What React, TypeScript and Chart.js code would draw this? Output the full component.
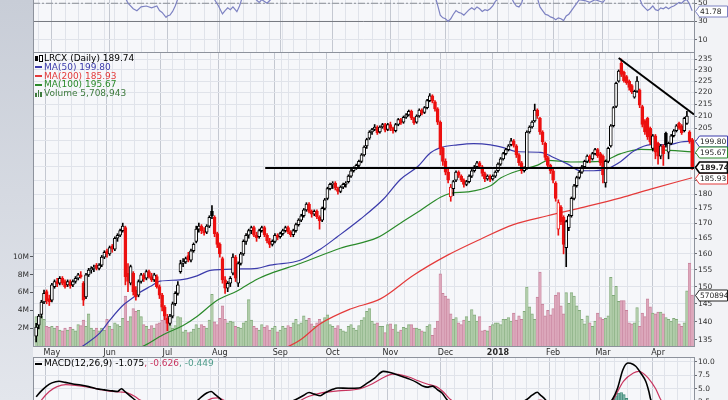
import React, { useEffect, useRef } from 'react';
import { Chart, registerables } from 'chart.js';

Chart.register(...registerables);

const FONT = '"DejaVu Sans", Verdana, sans-serif';
Chart.defaults.font.family = FONT;

// ---------------- categories (trading sessions) ----------------
const FIRST_SESSION = [2017, 3, 21]; // 21 Apr 2017
const SESSION_COUNT = 251;
const MARKET_HOLIDAYS = ['2017-05-29', '2017-07-04', '2017-09-04', '2017-11-23', '2017-12-25', '2018-01-01', '2018-01-15', '2018-02-19', '2018-03-30'];
const MONTH_LABELS = ['2018', 'Feb', 'Mar', 'Apr', 'May', 'Jun', 'Jul', 'Aug', 'Sep', 'Oct', 'Nov', 'Dec'];

// ---------------- price data (LRCX daily) ----------------
const opens = [
  136, 139, 142, 145.5, 148.5, 146.5, 146, 150, 151.5, 151,
  152.5, 151.5, 150.5, 151.5, 150.5, 151.5, 152.5, 153.5, 151, 147,
  153.5, 155, 155.5, 156.5, 155.5, 156.5, 159, 161, 160, 162.5,
  161.5, 165, 166, 167.5, 168.5, 154, 151, 154, 149, 147.5,
  151.5, 153.5, 152.5, 154.5, 153, 152, 153, 150, 147.5, 144,
  141, 139.5, 141.5, 145, 148, 154.5, 157, 157.5, 159.5, 158,
  161, 164, 168, 169, 167.5, 167, 169, 174, 172, 166.5,
  163, 158.5, 152, 149.5, 151, 154, 159, 151, 157, 160,
  164, 166, 167.5, 168.5, 166, 165.5, 167.5, 168.5, 166, 164,
  163, 164, 166, 165.5, 166.5, 167.5, 168.5, 167, 166.2, 167.5,
  169.5, 171, 172.5, 174.5, 176.5, 174, 173, 174, 172, 171,
  175, 178.5, 182, 183.5, 184, 182, 181, 182.5, 183.5, 184.5,
  186.5, 188.5, 189.5, 190.5, 192, 194.5, 198, 201, 203.5, 204.5,
  205.5, 203.5, 205.5, 206.5, 204.5, 206.5, 205, 204, 206.5, 208.5,
  207.5, 209.5, 210.5, 212, 209, 207.5, 210, 212.5, 211.5, 213.5,
  216.5, 218.5, 216, 213, 207.5, 197, 192, 188, 179, 182,
  185, 188, 186.5, 185, 183.5, 184.5, 186.5, 188.5, 190, 191.5,
  190, 187.5, 185.5, 186.5, 185.5, 186.5, 188.5, 191, 193, 195,
  196.5, 198.5, 200, 198, 194.5, 191.5, 188.5, 189.5, 203.5, 205.5,
  208, 212.5, 209, 203.5, 199, 193.5, 190.5, 188.5, 184, 168,
  175.5, 172, 162, 168.5, 172.5, 178.5, 183, 186, 188, 190,
  192, 194, 193, 195, 196.5, 195, 194, 184, 192, 198,
  206, 214, 225, 233, 229, 227, 225, 223, 218, 220.5,
  221, 214, 208, 209, 205, 197, 202, 199, 194, 198,
  203, 195.5, 199, 202, 204, 207, 206, 204, 207, 203.5,
  200.5,
];
const closes = [
  138.5, 141.5, 145.5, 148, 145.8, 145.5, 150.5, 151.5, 150.8, 152.5,
  151, 150, 151.5, 150.2, 151.5, 152.5, 153.5, 153, 146, 153.5,
  155, 155.5, 155.8, 155.5, 156.5, 159, 160.5, 160, 162, 161.5,
  165, 166, 167.5, 169, 153, 151.5, 156, 148.5, 147, 151.5,
  153.5, 152.2, 154.5, 153, 152, 153.5, 150, 147.5, 144, 141.5,
  139.5, 141.5, 145, 148, 150.5, 157, 157.5, 158.5, 158, 161,
  163, 168, 169, 167.5, 166.8, 169, 172, 172.5, 166.5, 163,
  160, 152, 149.5, 151, 152.5, 159, 152.5, 157, 160, 164,
  166, 167.5, 168.5, 166, 165.2, 167.5, 168.5, 166.2, 164.2, 163,
  164, 166, 165.3, 166.5, 167.5, 168.5, 167.2, 166.2, 167.5, 169.5,
  171, 172.5, 174.5, 176.5, 174, 173, 174, 172.2, 170.8, 175,
  178, 182, 183.5, 183.8, 182.2, 181, 182.5, 183.5, 184, 186.5,
  188.5, 189.5, 190.5, 192, 194.5, 197.5, 200.5, 203.5, 204.5, 205.5,
  203.2, 205.5, 206.5, 204.2, 206.5, 205, 204, 206.5, 208.5, 207.2,
  209.5, 210.5, 212, 209.2, 207.2, 210, 212.5, 211.2, 213.5, 216.5,
  218.5, 216.2, 213, 207.5, 197, 192, 188, 185, 182.5, 184.5,
  188, 186.8, 185.2, 183.5, 184.5, 186.5, 188.5, 190, 191.5, 190.2,
  187.5, 185.5, 186.5, 185.3, 186.5, 188, 191, 193, 195, 196.5,
  198, 200, 198.2, 194.5, 191.5, 188.5, 189.5, 203.5, 205.5, 207.5,
  212.5, 210, 203.5, 199.5, 193.5, 190.5, 188.5, 185, 178.5, 177,
  170.5, 163, 170.5, 172.5, 178.5, 183, 186, 188, 190, 192,
  194, 192.8, 195, 196.5, 194.2, 191.5, 187, 192, 197, 206,
  213.5, 224, 229.5, 228, 225.2, 224.2, 222.2, 220.2, 220.5, 225,
  214.5, 206.5, 203.5, 201.5, 199.5, 202, 195.5, 194, 198, 195,
  198.5, 199, 202, 204, 206, 205, 203.2, 209, 210, 199.8,
  189.74,
];
const highs = [
  139.5, 142, 146, 149, 149, 147.5, 151, 152, 152.5, 153,
  153, 152, 152, 152, 152, 153, 154, 154.5, 151.5, 154,
  155.5, 156, 156.5, 157, 157, 159.5, 161, 161.5, 162.5, 163,
  165.5, 166.5, 168, 170, 169, 157, 156.5, 154.5, 150, 152,
  154, 154, 155, 155, 154, 154, 153.5, 150.5, 148, 144.5,
  142, 142, 145.5, 148.5, 151.5, 158, 158.5, 159, 160.5, 161.5,
  163.5, 169, 170, 169.5, 168.5, 169.5, 172.5, 176, 172.5, 167,
  163.5, 159, 153, 151.5, 153, 160, 159.5, 157.5, 160.5, 164.5,
  166.5, 168, 169, 169, 167, 168, 169, 169, 166.5, 165,
  164.5, 166.5, 166.5, 167, 168, 169, 169, 167.5, 168, 170,
  171.5, 173, 175, 177, 177, 174.5, 174.5, 174.5, 172.5, 175.5,
  178.5, 182.5, 184, 184.5, 184.5, 182.5, 183, 184, 184.5, 187,
  189, 190, 191, 192.5, 195, 198, 201, 204, 205, 206.5,
  206, 206, 207, 207, 207, 207.5, 205.5, 207, 209, 209,
  210, 211, 212.5, 212.5, 209.5, 210.5, 213, 213, 214, 217,
  219.5, 219, 216.5, 213.5, 208, 197.5, 193, 189, 183.5, 185,
  188.5, 188.5, 187, 185.5, 185, 187, 189, 190.5, 192, 192,
  190.5, 188, 187, 187, 187, 188.5, 191.5, 193.5, 195.5, 197,
  198.5, 201, 200.5, 198.5, 195, 192, 190, 204, 206, 208,
  215, 213, 209.5, 204, 199.5, 194, 191, 189, 184.5, 178,
  176, 172.5, 171, 173, 179, 183.5, 186.5, 188.5, 190.5, 192.5,
  194.5, 194.5, 195.5, 197, 197, 195.5, 194.5, 192.5, 197.5, 206.5,
  214, 224.5, 230, 235, 229.5, 227.5, 225.5, 223.5, 221, 227,
  221.5, 214.5, 208.5, 209.5, 205.5, 202.5, 202.5, 199.5, 198.5, 198.5,
  203.5, 199.5, 202.5, 204.5, 206.5, 207.5, 206.5, 209.5, 212, 204,
  201,
];
const lows = [
  134.5, 138, 141, 145, 145, 144.5, 145.5, 149.5, 150, 150.5,
  150.5, 149.5, 150, 149.5, 150, 151, 152, 152.5, 144.5, 146.5,
  153, 154, 154.5, 155, 155, 156, 158.5, 159, 159.5, 160.5,
  161, 164, 165.5, 167, 150.5, 148.5, 150.5, 147.5, 146, 147,
  151, 151.5, 152, 152.5, 151.5, 151.5, 149.5, 146.5, 143, 140.5,
  137.5, 139, 141, 144.5, 147.5, 154, 156, 157, 157.5, 157.5,
  160.5, 163.5, 167, 166.5, 166, 166.5, 168.5, 171.5, 165.5, 162,
  159, 151, 148, 148.5, 150, 153.5, 151.5, 150, 156.5, 159.5,
  163, 165, 166.5, 165.5, 164, 165, 167, 165.5, 163.5, 162,
  162.5, 163.5, 164.5, 165, 166, 167, 166.5, 165.5, 165.5, 167,
  169, 170.5, 172, 174, 173.5, 172, 172.5, 171.5, 168, 170.5,
  174.5, 178, 181.5, 182, 181.5, 180, 180.5, 182, 182.5, 184,
  186, 188, 189, 190, 191.5, 194, 197, 200.5, 202.5, 204,
  202.5, 203, 205, 203.5, 204, 204, 203, 203.5, 206, 206.5,
  207, 209, 210, 208.5, 206.5, 207, 209.5, 210.5, 211, 213,
  216, 215.5, 212, 206.5, 194.5, 190.5, 187, 184, 177.5, 179.5,
  184.5, 186, 184.5, 182.5, 183, 184, 186, 188, 189.5, 189.5,
  186.5, 184.5, 185, 184.5, 185, 186, 188, 190.5, 192.5, 194.5,
  196, 198, 197.5, 193.5, 190.5, 187.5, 188, 189, 203, 205,
  207.5, 209, 202.5, 198.5, 192.5, 189.5, 187.5, 184, 177.5, 166,
  169.5, 160, 156, 167.5, 172, 178, 182.5, 185.5, 187.5, 189.5,
  191.5, 191.5, 192.5, 194.5, 193.5, 190.5, 184, 182.5, 191.5, 197.5,
  205.5, 213.5, 224.5, 227, 224.5, 223.5, 221, 219.5, 217.5, 220,
  213.5, 205.5, 202.5, 200.5, 198.5, 196, 193, 191, 193, 190.5,
  197.5, 193, 198.5, 201.5, 203.5, 204.5, 202.5, 203.5, 206.5, 199,
  189,
];
// volume, millions of shares
const volumesM = [
  3.3, 3.2, 3.4, 3.0, 2.2, 2.1, 2.2, 2.0, 2.2, 1.8,
  1.7, 2.0, 1.8, 2.1, 1.9, 1.7, 2.4, 2.3, 2.9, 2.2,
  3.6, 2.0, 1.8, 2.0, 1.7, 2.0, 1.8, 3.0, 2.2, 1.9,
  2.6, 2.4, 2.2, 3.1, 5.6, 2.8, 3.3, 4.2, 3.9, 4.0,
  3.3, 2.4, 2.2, 1.9, 2.3, 2.0, 2.5, 2.6, 2.9, 3.7,
  3.0, 2.4, 2.0, 2.3, 3.3, 3.2, 1.6, 1.8, 1.5, 1.6,
  1.9, 2.4, 2.0, 2.4, 2.2, 2.0, 2.9, 5.8, 2.7, 2.4,
  3.1, 4.5, 3.0, 2.6, 2.8, 2.7, 2.2, 2.1, 2.0, 2.6,
  2.8, 5.2, 2.9, 2.2, 2.0, 1.8, 2.4, 2.1, 2.3, 1.8,
  2.0, 2.2, 1.6, 1.8, 2.2, 2.0, 2.3, 2.1, 2.6, 3.0,
  2.4, 2.6, 3.4, 2.9, 3.1, 2.5, 2.2, 2.6, 3.0, 2.7,
  3.2, 3.5, 2.4, 2.2, 2.0, 2.3, 1.9, 1.7, 1.6, 2.2,
  2.4, 2.0, 1.8, 2.3, 2.9, 3.2, 3.9, 4.2, 2.8, 2.5,
  2.6, 2.2, 2.2, 1.5, 2.4, 2.5, 1.9, 2.4, 1.6, 1.8,
  2.1, 2.0, 2.4, 2.4, 2.0, 2.0, 1.9, 1.7, 1.6, 2.2,
  2.4, 1.2, 2.0, 2.8, 8.1, 5.9, 5.6, 5.3, 3.6, 3.0,
  3.2, 2.6, 2.4, 2.9, 3.3, 2.8, 4.1, 3.5, 2.8, 3.3,
  1.7, 1.8, 1.7, 2.2, 2.4, 2.6, 2.6, 2.4, 3.0, 3.0,
  3.2, 2.8, 3.7, 2.9, 3.4, 3.0, 3.9, 6.6, 4.4, 3.6,
  3.0, 5.5, 8.3, 4.7, 3.4, 4.0, 3.5, 4.2, 5.7, 6.0,
  4.5, 3.6, 6.0, 4.8, 6.0, 5.6, 4.5, 4.0, 3.0, 2.5,
  3.4, 2.6, 2.2, 2.8, 3.7, 3.2, 3.0, 3.1, 3.4, 7.7,
  5.7, 6.7, 5.0, 5.1, 5.1, 4.0, 2.6, 2.5, 2.6, 4.3,
  2.2, 3.7, 3.3, 5.3, 4.4, 3.7, 3.6, 3.8, 3.8, 3.6,
  3.2, 3.0, 2.8, 3.1, 3.0, 2.5, 2.2, 2.6, 6.2, 9.3,
  5.708943,
];

// moving averages (session index -> value)
const ma50Idx = [15, 17.8, 24.3, 28, 33, 37, 39.6, 43.4, 47.2, 54.8, 61.3, 66.3, 76.6, 84.2, 89.2, 100.6, 108.3, 114.8, 123.5, 132.3, 138.8, 145.3, 150.3, 154.1, 160.6, 166.7, 173.2, 178.1, 183.5, 192.3, 197.2, 202.6, 207.5, 212.5, 217.8, 222.8, 227.8, 234.2, 240.7, 245.7, 250];
const ma50Val = [132, 133.4, 136.9, 140.3, 144.5, 146.8, 148.3, 150, 151.6, 152, 153.2, 154.9, 155.3, 155.5, 156.5, 158, 161.5, 165.5, 171.3, 178.2, 185.3, 190, 195.3, 197.3, 198.4, 198.9, 198.4, 197.3, 195.7, 195.5, 193.5, 191, 188.5, 188.5, 189.3, 192, 196, 198.5, 198.4, 199.5, 199.8];
const ma100Idx = [38, 41.5, 48.4, 56, 61.3, 69, 76.6, 84.2, 89.2, 100.6, 115.9, 130, 138.8, 146.4, 154.1, 157.9, 164.4, 173.2, 177, 184.6, 191.1, 195, 203.7, 215.2, 222.8, 230.4, 238, 250];
const ma100Val = [132.5, 133.6, 136.4, 138.9, 141.4, 146, 148.7, 152.2, 153.9, 157, 161.8, 165.2, 170, 174.3, 178.9, 180.3, 180.8, 183, 185.8, 188.8, 190.6, 192.4, 191.8, 192, 195, 196.6, 196.4, 195.67];
const ma200Idx = [93, 96.8, 100.6, 108.3, 119.7, 131.2, 143.8, 156.8, 169.3, 181.9, 194.9, 207.5, 222.8, 234.2, 250];
const ma200Val = [132.5, 133.5, 135, 139.4, 143.5, 146.4, 153.4, 159.6, 164.7, 169.5, 172.5, 175.2, 178.7, 181.8, 185.93];

// hand-drawn trend lines
const supportIdx = [87.3, 250.7];
const supportVal = [189.5, 189.5];
const resistIdx = [222, 250.7];
const resistVal = [235.5, 210.6];

// RSI(14)
const rsiIdx = [0, 5, 10, 15, 20, 25, 30, 33, 35, 37, 38.4, 40, 42, 44, 46, 47, 48, 49.5, 50, 51, 52, 53, 54, 56, 60, 64, 67, 68, 69.5, 71, 72, 73, 74, 75, 76.5, 77.5, 78.5, 80, 83, 85, 86, 88, 89, 91, 95, 100, 105, 110, 115, 120, 126, 130, 135, 140, 145, 150, 152, 153, 154, 155, 156, 157, 158, 159, 160, 161, 162, 163, 164, 165, 166, 167, 168, 169, 170, 171, 172, 173, 174, 175, 177, 180, 181, 182, 183, 184, 185, 186, 188, 190, 191, 192, 193, 194, 195, 196, 197, 198, 199, 200, 201, 202, 203, 204, 205, 206, 207, 209, 211, 213, 215, 216, 217, 219, 223, 226, 228, 230, 231, 232, 233, 234, 235, 236, 237, 238, 239, 240, 241, 242, 243, 244, 245, 246, 247, 248, 249, 250];
const rsiVal = [62, 66, 68, 64, 66, 70, 72, 62, 50, 44, 41.8, 46, 47, 45, 47, 42, 40, 34.6, 36, 37, 41, 47, 55, 62, 66, 65, 58, 54, 47, 38.3, 42, 45, 43, 46, 40.8, 47, 56, 60, 56, 51, 54, 50, 53, 58, 62, 68, 72, 70, 74, 72, 78, 74, 68, 66, 62, 64, 58, 48, 37, 34, 33, 30.2, 33, 38, 42, 40, 39, 37, 40, 43, 45, 43, 46, 44, 41, 43, 42, 44, 47, 52, 58, 62, 57, 51, 47, 46, 50, 60, 68, 62, 56, 46, 42, 38, 37, 35, 34, 32, 34, 33, 31, 36, 38, 42, 46, 50, 54, 53, 51, 54, 52, 51, 55, 65, 78, 70, 60, 55, 48, 45, 42, 44, 47, 43, 42, 45, 44, 46, 44, 46, 47, 49, 51, 50, 53, 54, 49, 41.78];
const RSI_MIDLINE = 50;
const RSI_OVERSOLD = 30;

// MACD(12,26,9)
const macdIdx = [0, 2, 4, 6, 8.7, 11, 14, 17, 20, 23, 26, 29, 31, 32.5, 34, 36, 38, 42, 46, 50, 54, 58, 61, 63, 65, 66.7, 68, 70, 72, 76, 80, 85, 90, 95, 99, 102, 104, 106, 108.3, 110, 113, 115, 119, 123, 126, 129, 132.3, 134.5, 137, 140, 142.3, 145, 147.6, 149, 151, 153, 154.5, 156.5, 160, 165, 170, 175, 180, 184, 187, 189, 191, 192, 194, 197, 201, 205, 210, 214, 217, 219.6, 221.6, 223.6, 225.5, 226.5, 228.5, 230.4, 232.3, 233.5, 234.2, 237, 242, 246, 250];
const macdVal = [3.5, 4.6, 5.5, 6.1, 6.4, 6.2, 5.9, 5.7, 5.4, 5.0, 4.8, 4.6, 4.5, 5.0, 4.4, 3.6, 2.8, 1.8, 1.0, 0.2, 0.8, 1.8, 2.6, 3.5, 4.2, 4.5, 4.0, 3.2, 2.0, 0.6, 0.8, 1.5, 1.6, 2.2, 3.0, 3.8, 4.3, 4.0, 3.7, 4.2, 4.9, 5.15, 5.1, 5.15, 6.0, 7.0, 8.25, 8.1, 7.7, 7.2, 6.8, 6.2, 5.45, 5.3, 5.5, 4.8, 4.3, 3.0, 1.0, 0.2, 0.5, 1.2, 1.8, 2.2, 3.0, 3.8, 4.35, 3.9, 3.0, 1.0, -2.0, -2.5, -1.0, 0.5, 1.8, 3.0, 5.15, 8.56, 9.8, 9.75, 9.2, 7.95, 6.4, 4.5, 3.0, 1.5, 0.2, -0.5, -1.075];
const signalIdx = [0, 2, 5, 8, 11.3, 15, 20, 24, 28, 32, 35, 37.5, 39.2, 43, 50, 58, 63, 67, 69, 71, 75, 85, 95, 100, 101.4, 104, 108.3, 115, 123.5, 128, 132, 135.8, 138, 142, 145.6, 149, 152.5, 155, 157.9, 162, 170, 180, 188, 192, 196, 202, 208, 214, 218, 220, 223.8, 227.6, 229.6, 231, 233.1, 236.1, 238, 242, 246, 250];
const signalVal = [1.5, 2.9, 4.5, 5.4, 5.76, 5.65, 5.3, 4.9, 4.55, 4.4, 4.2, 3.6, 3.0, 2.2, 1.0, 1.0, 2.2, 3.2, 3.3, 3.0, 2.0, 1.0, 1.6, 2.6, 3.0, 3.6, 4.2, 4.6, 5.0, 5.9, 7.0, 7.75, 7.7, 7.2, 6.5, 5.9, 5.4, 4.5, 3.0, 1.8, 0.8, 1.0, 2.2, 2.9, 2.2, 0.0, -1.5, -0.5, 1.5, 3.0, 6.4, 7.95, 8.25, 8.0, 7.1, 5.0, 3.0, 1.0, 0.0, -0.626];
const histIdx = [217, 218, 219, 220, 221, 222, 223, 224, 225, 226, 227];
const histVal = [1.0, 1.8, 2.6, 3.2, 3.7, 4.2, 4.3, 3.9, 3.2, 2.4, 1.4];

// axis ticks and last-value tags
const PRICE_TICKS = [135, 140, 145, 150, 155, 160, 165, 170, 175, 180, 185, 190, 195, 200, 205, 210, 215, 220, 225, 230, 235];
const VOLUME_TICKS = [2, 4, 6, 8, 10];
const RSI_TICKS = [10, 30, 50];
const MACD_TICKS = [-2.5, 0, 2.5, 5, 7.5, 10];
const LAST_CLOSE = 189.74;
const LAST_MA50 = 199.8;
const LAST_MA100 = 195.67;
const LAST_MA200 = 185.93;
const LAST_VOLUME = 5708943;
const LAST_RSI = 41.78;

// ---------------- styling ----------------
const X_MIN = -1.2;
const X_MAX = 250.7;
const PRICE_MIN = 133.41;
const PRICE_MAX = 238.27;
const PAGE_BG = '#f2f3f6';
const PANEL_BG = '#f6f7fa';
const GRID = '#e0e3ea';
const MONTH_GRID = '#c4c8d1';
const FRAME = '#8d929c';
const RED = '#ec1010';
const BLACK = '#000000';
const MA50_COLOR = '#3b3bab';
const MA100_COLOR = '#2a8a2a';
const MA200_COLOR = '#e43a3a';
const RSI_COLOR = '#7d82c2';
const SIGNAL_COLOR = '#c8345f';

// ---------------- derived calendar ----------------
function tradingDays(): Date[] {
  const out: Date[] = [];
  const d = new Date(FIRST_SESSION[0], FIRST_SESSION[1], FIRST_SESSION[2]);
  while (out.length < SESSION_COUNT) {
    const wd = d.getDay();
    const key = `${d.getFullYear()}-${String(d.getMonth() + 1).padStart(2, '0')}-${String(d.getDate()).padStart(2, '0')}`;
    if (wd !== 0 && wd !== 6 && !MARKET_HOLIDAYS.includes(key)) out.push(new Date(d));
    d.setDate(d.getDate() + 1);
  }
  return out;
}
const SESSIONS = tradingDays();
const gridIdx: number[] = [];
const monthLabelAt = new Map<number, string>();
SESSIONS.forEach((d, i) => {
  if (i === 0) return;
  const p = SESSIONS[i - 1];
  const newMonth = d.getMonth() !== p.getMonth();
  const newWeek = d.getDay() < p.getDay() || d.getTime() - p.getTime() > 4 * 86400000;
  if (newMonth) monthLabelAt.set(i, MONTH_LABELS[d.getMonth()]);
  if (newMonth || newWeek) gridIdx.push(i);
});

const prevClose = (i: number) => (i > 0 ? closes[i - 1] : opens[0]);
const candleColor = closes.map((c, i) => (c < prevClose(i) ? RED : BLACK));
const bodyFill = closes.map((c, i) => (c >= opens[i] ? '#ffffff' : candleColor[i]));
const volFill = closes.map((c, i) => (c >= prevClose(i) ? '#b0cca9' : '#dca7bb'));
const volEdge = closes.map((c, i) => (c >= prevClose(i) ? '#82aa7b' : '#c6829b'));

const pts = (xs: number[], ys: number[]) => xs.map((x, i) => ({ x, y: ys[i] }));

// ---------------- chart helpers ----------------
function xAxis(showLabels: boolean, h: number): any {
  return {
    type: 'linear',
    min: X_MIN,
    max: X_MAX,
    offset: false,
    afterBuildTicks: (s: any) => {
      s.ticks = gridIdx.map((v) => ({ value: v }));
    },
    afterFit: (s: any) => {
      s.height = h;
      s.paddingLeft = 0;
      s.paddingRight = 0;
      s.paddingTop = 0;
      s.paddingBottom = 0;
    },
    grid: {
      color: (c: any) => (c.tick && monthLabelAt.has(c.tick.value) ? MONTH_GRID : GRID),
      drawTicks: false,
      lineWidth: 1,
    },
    border: { display: false },
    ticks: {
      display: showLabels,
      autoSkip: false,
      maxRotation: 0,
      minRotation: 0,
      padding: 2,
      color: '#2a2a2a',
      font: (c: any) => ({
        family: FONT,
        size: 8,
        weight: c.tick && monthLabelAt.get(c.tick.value) === '2018' ? 'bold' : 'normal',
      }),
      callback: (v: any) => monthLabelAt.get(v) ?? '',
    },
  };
}

const fitVertical = (w: number) => (s: any) => {
  s.width = w;
  s.paddingTop = 0;
  s.paddingBottom = 0;
  s.paddingLeft = 0;
  s.paddingRight = 0;
};

function rightAxis(extra: any): any {
  return {
    position: 'right',
    afterFit: fitVertical(34),
    border: { display: false },
    grid: { color: GRID, drawTicks: true, tickLength: 3, tickColor: '#6a6d74' },
    ...extra,
    ticks: { autoSkip: false, padding: 1, color: '#2f2f2f', font: { family: FONT, size: 7.5 }, ...(extra.ticks || {}) },
  };
}

function panelPlugin(showTop: boolean, showBottom: boolean): any {
  return {
    id: 'panelFrame',
    beforeDraw(chart: any) {
      const { ctx, chartArea: a } = chart;
      ctx.save();
      ctx.fillStyle = PANEL_BG;
      ctx.fillRect(a.left, a.top, a.right - a.left, a.bottom - a.top);
      ctx.restore();
    },
    afterDatasetsDraw(chart: any) {
      const { ctx, chartArea: a } = chart;
      ctx.save();
      ctx.strokeStyle = FRAME;
      ctx.lineWidth = 1;
      ctx.beginPath();
      const l = Math.round(a.left) + 0.5;
      const r = Math.round(a.right) + 0.5;
      const t = Math.round(a.top) + 0.5;
      const b = Math.round(a.bottom) + 0.5;
      ctx.moveTo(l, a.top);
      ctx.lineTo(l, a.bottom + 1);
      ctx.moveTo(r, a.top);
      ctx.lineTo(r, a.bottom + 1);
      if (showTop) {
        ctx.moveTo(l, t);
        ctx.lineTo(r, t);
      }
      if (showBottom) {
        ctx.moveTo(l, b);
        ctx.lineTo(r, b);
      }
      ctx.stroke();
      ctx.restore();
    },
  };
}

function tagPlugin(tags: any[]): any {
  return {
    id: 'valueTags',
    afterDraw(chart: any) {
      const { ctx, chartArea: a } = chart;
      ctx.save();
      for (const t of tags) {
        const y = Math.round(chart.scales[t.axis].getPixelForValue(t.value)) + 0.5;
        const x0 = Math.round(a.right) + 1.5;
        ctx.beginPath();
        ctx.moveTo(x0, y);
        ctx.lineTo(x0 + 4, y - 5.5);
        ctx.lineTo(727.5, y - 5.5);
        ctx.lineTo(727.5, y + 5.5);
        ctx.lineTo(x0 + 4, y + 5.5);
        ctx.closePath();
        ctx.fillStyle = '#ffffff';
        ctx.fill();
        ctx.lineWidth = t.bold ? 1.6 : 1;
        ctx.strokeStyle = t.color;
        ctx.stroke();
        ctx.fillStyle = '#1e1e1e';
        ctx.font = `${t.bold ? 'bold ' : ''}7.5px ${FONT}`;
        ctx.textBaseline = 'middle';
        ctx.textAlign = 'left';
        ctx.fillText(t.text, x0 + 4.5, y + 0.5);
      }
      ctx.restore();
    },
  };
}

const baseOptions = (padding: any) => ({
  responsive: false,
  animation: false,
  devicePixelRatio: 1,
  events: [],
  layout: { padding, autoPadding: false },
  plugins: { legend: { display: false }, tooltip: { enabled: false } },
});

function mainConfig(): any {
  return {
    type: 'bar',
    data: {
      datasets: [
        { type: 'line', yAxisID: 'y', data: pts(supportIdx, supportVal), borderColor: '#000', borderWidth: 2, pointRadius: 0 },
        { type: 'line', yAxisID: 'y', data: pts(resistIdx, resistVal), borderColor: '#000', borderWidth: 2, pointRadius: 0 },
        {
          type: 'bar', yAxisID: 'y', grouped: false, barThickness: 3, minBarLength: 1,
          data: closes.map((c, i) => ({ x: i, y: [opens[i], c] })),
          backgroundColor: bodyFill, borderColor: candleColor, borderWidth: 1, borderSkipped: false,
        },
        {
          type: 'bar', yAxisID: 'y', grouped: false, barThickness: 1,
          data: highs.map((h, i) => ({ x: i, y: [lows[i], h] })),
          backgroundColor: candleColor, borderWidth: 0,
        },
        { type: 'line', yAxisID: 'y', data: pts(ma50Idx, ma50Val), borderColor: MA50_COLOR, borderWidth: 1.2, pointRadius: 0, cubicInterpolationMode: 'monotone' },
        { type: 'line', yAxisID: 'y', data: pts(ma100Idx, ma100Val), borderColor: MA100_COLOR, borderWidth: 1.2, pointRadius: 0, cubicInterpolationMode: 'monotone' },
        { type: 'line', yAxisID: 'y', data: pts(ma200Idx, ma200Val), borderColor: MA200_COLOR, borderWidth: 1.2, pointRadius: 0, cubicInterpolationMode: 'monotone' },
        {
          type: 'bar', yAxisID: 'yVol', grouped: false, barThickness: 2.6,
          data: volumesM.map((v, i) => ({ x: i, y: v })),
          backgroundColor: volFill, borderColor: volEdge, borderWidth: { top: 1, left: 0.5, right: 0.5, bottom: 0 },
        },
      ],
    },
    options: {
      ...baseOptions({ top: 1, left: 0, right: 0, bottom: 0 }),
      scales: {
        x: xAxis(true, 11),
        y: rightAxis({
          type: 'logarithmic',
          min: PRICE_MIN,
          max: PRICE_MAX,
          bounds: 'data',
          afterBuildTicks: (s: any) => {
            s.ticks = PRICE_TICKS.map((v) => ({ value: v }));
          },
          ticks: { callback: (v: any) => String(v) },
        }),
        yVol: {
          axis: 'y',
          type: 'linear',
          position: 'left',
          min: 0,
          max: 33,
          afterBuildTicks: (s: any) => {
            s.ticks = VOLUME_TICKS.map((v) => ({ value: v }));
          },
          afterFit: fitVertical(33),
          border: { display: false },
          grid: { drawOnChartArea: false, drawTicks: true, tickLength: 3, tickColor: '#55585e' },
          ticks: { autoSkip: false, padding: 1, color: '#2f2f2f', font: { family: FONT, size: 7.5 }, callback: (v: any) => `${v}M` },
        },
      },
    },
    plugins: [
      panelPlugin(true, true),
      tagPlugin([
        { axis: 'y', value: LAST_MA50, text: LAST_MA50.toFixed(2), color: MA50_COLOR },
        { axis: 'y', value: LAST_MA100, text: LAST_MA100.toFixed(2), color: MA100_COLOR },
        { axis: 'y', value: LAST_MA200, text: LAST_MA200.toFixed(2), color: MA200_COLOR },
        { axis: 'y', value: LAST_CLOSE, text: LAST_CLOSE.toFixed(2), color: '#000', bold: true },
        { axis: 'yVol', value: LAST_VOLUME / 1e6, text: String(LAST_VOLUME), color: '#222' },
      ]),
    ],
  };
}

function rsiConfig(): any {
  return {
    type: 'line',
    data: {
      datasets: [
        { data: pts(rsiIdx, rsiVal), borderColor: RSI_COLOR, borderWidth: 1.2, pointRadius: 0 },
        {
          data: [{ x: X_MIN, y: RSI_MIDLINE }, { x: X_MAX, y: RSI_MIDLINE }],
          borderColor: '#8b8e96', borderWidth: 1, borderDash: [7, 2, 2, 2], pointRadius: 0,
        },
        {
          data: [{ x: X_MIN, y: RSI_OVERSOLD }, { x: X_MAX, y: RSI_OVERSOLD }],
          borderColor: '#75787f', borderWidth: 1, pointRadius: 0,
        },
      ],
    },
    options: {
      ...baseOptions({ top: 0, left: 33, right: 0, bottom: 0 }),
      scales: {
        x: xAxis(false, 1),
        y: rightAxis({
          type: 'linear',
          min: -3.5,
          max: 53.6,
          afterBuildTicks: (s: any) => {
            s.ticks = RSI_TICKS.map((v) => ({ value: v }));
          },
          ticks: { callback: (v: any) => String(v) },
        }),
      },
    },
    plugins: [panelPlugin(false, false), tagPlugin([{ axis: 'y', value: LAST_RSI, text: LAST_RSI.toFixed(2), color: RSI_COLOR }])],
  };
}

function macdConfig(): any {
  return {
    type: 'bar',
    data: {
      datasets: [
        { type: 'line', data: pts(macdIdx, macdVal), borderColor: '#000', borderWidth: 1.6, pointRadius: 0, cubicInterpolationMode: 'monotone' },
        { type: 'line', data: pts(signalIdx, signalVal), borderColor: SIGNAL_COLOR, borderWidth: 1.2, pointRadius: 0, cubicInterpolationMode: 'monotone' },
        {
          type: 'bar', grouped: false, barThickness: 2.6, data: pts(histIdx, histVal),
          backgroundColor: '#7db3a6', borderColor: '#3f8a78', borderWidth: 0.8,
        },
      ],
    },
    options: {
      ...baseOptions({ top: 0, left: 33, right: 0, bottom: 0 }),
      scales: {
        x: xAxis(false, 1),
        y: rightAxis({
          type: 'linear',
          min: -4.56,
          max: 10.93,
          afterBuildTicks: (s: any) => {
            s.ticks = MACD_TICKS.map((v) => ({ value: v }));
          },
          ticks: { callback: (v: any) => Number(v).toFixed(1) },
        }),
      },
    },
    plugins: [panelPlugin(true, false)],
  };
}

// ---------------- legend bits ----------------
const legendRows = [
  { icon: 'candle', text: `LRCX (Daily) ${LAST_CLOSE}`, color: '#000' },
  { icon: 'line', text: `MA(50) ${LAST_MA50.toFixed(2)}`, color: MA50_COLOR },
  { icon: 'line', text: `MA(200) ${LAST_MA200.toFixed(2)}`, color: MA200_COLOR },
  { icon: 'line', text: `MA(100) ${LAST_MA100.toFixed(2)}`, color: MA100_COLOR },
  { icon: 'vol', text: `Volume ${LAST_VOLUME.toLocaleString('en-US')}`, color: '#3d7a3d' },
];

function Icon({ kind, color }: { kind: string; color: string }) {
  if (kind === 'line') {
    return <span style={{ display: 'inline-block', width: 7, height: 2, background: color, verticalAlign: 'middle', marginRight: 2 }} />;
  }
  if (kind === 'vol') {
    return (
      <span style={{ display: 'inline-block', width: 7, height: 7, marginRight: 2, position: 'relative', verticalAlign: 'middle' }}>
        <span style={{ position: 'absolute', left: 0, bottom: 0, width: 1.5, height: 4, background: color }} />
        <span style={{ position: 'absolute', left: 2.5, bottom: 0, width: 1.5, height: 7, background: color }} />
        <span style={{ position: 'absolute', left: 5, bottom: 0, width: 1.5, height: 5, background: color }} />
      </span>
    );
  }
  return (
    <span style={{ display: 'inline-block', width: 7, height: 7, marginRight: 2, position: 'relative', verticalAlign: 'middle' }}>
      <span style={{ position: 'absolute', left: 0, top: 1, width: 3, height: 5, background: '#000' }} />
      <span style={{ position: 'absolute', left: 3.5, top: 0, width: 2, height: 5, border: '1px solid #000', background: '#fff' }} />
    </span>
  );
}

export default function App() {
  const rsiRef = useRef<HTMLCanvasElement>(null);
  const mainRef = useRef<HTMLCanvasElement>(null);
  const macdRef = useRef<HTMLCanvasElement>(null);

  useEffect(() => {
    const charts = [
      new Chart(rsiRef.current as HTMLCanvasElement, rsiConfig()),
      new Chart(mainRef.current as HTMLCanvasElement, mainConfig()),
      new Chart(macdRef.current as HTMLCanvasElement, macdConfig()),
    ];
    return () => charts.forEach((c) => c.destroy());
  }, []);

  const abs = (top: number, h: number): any => ({ position: 'absolute', left: 0, top, width: 728, height: h });

  return (
    <div style={{ position: 'absolute', left: 0, top: 0, width: 728, height: 400, overflow: 'hidden', background: PAGE_BG, fontFamily: FONT }}>
      <div style={{ position: 'absolute', left: 0, top: 0, width: 33, height: 400, background: 'linear-gradient(#c8cdd7, #e3e6ec)' }} />
      <canvas ref={rsiRef} width={728} height={53} style={abs(0, 53)} />
      <canvas ref={mainRef} width={728} height={306} style={abs(51, 306)} />
      <canvas ref={macdRef} width={728} height={84} style={abs(357, 84)} />
      <div style={{ position: 'absolute', left: 35, top: 54, fontSize: 9, lineHeight: '8.8px', whiteSpace: 'nowrap' }}>
        {legendRows.map((r) => (
          <div key={r.text} style={{ color: r.color, height: 8.8 }}>
            <Icon kind={r.icon} color={r.color} />
            {r.text}
          </div>
        ))}
      </div>
      <div style={{ position: 'absolute', left: 35, top: 359, fontSize: 9, lineHeight: '9px', whiteSpace: 'nowrap' }}>
        <span style={{ display: 'inline-block', width: 7, height: 2, background: '#000', verticalAlign: 'middle', marginRight: 2 }} />
        <span style={{ color: '#000' }}>MACD(12,26,9) -1.075</span>
        <span style={{ color: SIGNAL_COLOR }}>, -0.626</span>
        <span style={{ color: '#4f9c8a' }}>, -0.449</span>
      </div>
    </div>
  );
}
